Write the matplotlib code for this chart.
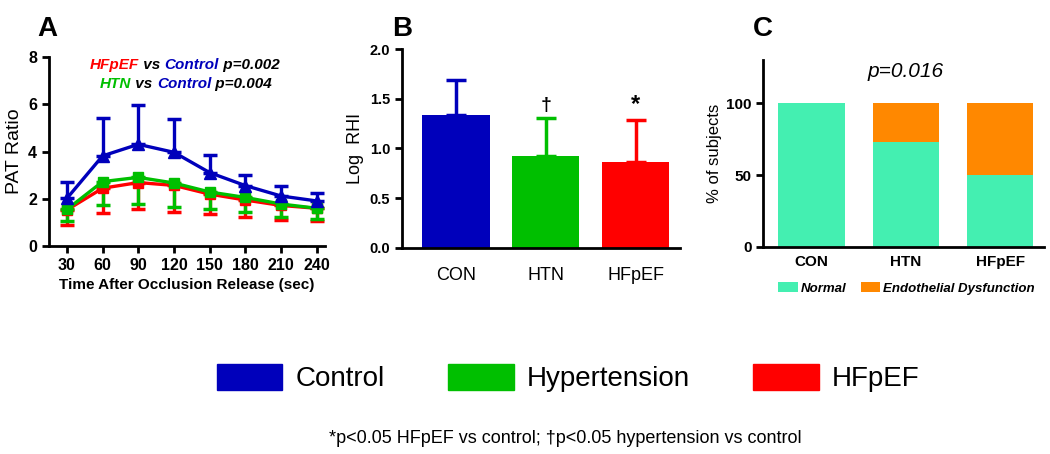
import numpy as np
import matplotlib.pyplot as plt
from matplotlib.patches import Patch

plt.rcParams['font.family'] = ['Liberation Sans', 'DejaVu Sans']

# panel A: PAT ratio over time
times = [30, 60, 90, 120, 150, 180, 210, 240]
con_mean = [2.02, 3.82, 4.31, 3.97, 3.11, 2.56, 2.12, 1.91]
con_sd = [0.71, 1.59, 1.67, 1.43, 0.75, 0.46, 0.42, 0.34]
htn_mean = [1.55, 2.73, 2.91, 2.67, 2.29, 2.06, 1.78, 1.60]
htn_sd = [0.48, 0.99, 1.14, 1.00, 0.74, 0.60, 0.54, 0.46]
hf_mean = [1.53, 2.45, 2.69, 2.57, 2.20, 1.95, 1.72, 1.60]
hf_sd = [0.65, 1.04, 1.14, 1.11, 0.84, 0.72, 0.62, 0.54]

# panel B: log RHI
groups = ['CON', 'HTN', 'HFpEF']
rhi_mean = [1.334, 0.928, 0.86]
rhi_sd = [0.35, 0.38, 0.43]
rhi_marks = ['', '†', '*']

# panel C: % of subjects
normal_pct = [100, 72.7, 50]
dysf_pct = [0, 27.3, 50]

blue = '#0000bb'
green = '#00bf00'
red = '#ff0000'
turq = '#44efb1'
orange = '#ff8800'

fig = plt.figure(figsize=(10.5, 4.54), dpi=100)
axA = fig.add_axes([0.0467, 0.458, 0.263, 0.416])
axB = fig.add_axes([0.383, 0.454, 0.265, 0.438])
axC = fig.add_axes([0.727, 0.456, 0.267, 0.412])

for ax in (axA, axB, axC):
    ax.spines['top'].set_visible(False)
    ax.spines['right'].set_visible(False)
    ax.spines['left'].set_linewidth(2)
    ax.spines['bottom'].set_linewidth(2)
    ax.tick_params(width=2, length=5)

# ---- A ----
z = np.zeros(len(times))
axA.errorbar(times, hf_mean, yerr=[hf_sd, z], color=red, lw=2.4, marker='s', ms=7,
             capsize=5, capthick=2.5, elinewidth=2.4)
axA.errorbar(times, htn_mean, yerr=[htn_sd, z], color=green, lw=2.4, marker='s', ms=7,
             capsize=5, capthick=2.5, elinewidth=2.4)
axA.errorbar(times, con_mean, yerr=[z, con_sd], color=blue, lw=2.4, marker='^', ms=8,
             capsize=5, capthick=2.5, elinewidth=2.4)
axA.set_xlim(15, 247)
axA.set_ylim(0, 8)
axA.set_xticks(times)
axA.set_yticks([0, 2, 4, 6, 8])
for lbl in axA.get_xticklabels() + axA.get_yticklabels():
    lbl.set_fontweight('bold')
    lbl.set_fontsize(11.5)
axA.set_xlabel('Time After Occlusion Release (sec)', fontsize=11, fontweight='bold')
axA.set_ylabel('PAT Ratio', fontsize=14, labelpad=4)
kw = dict(fontsize=11, fontweight='bold', fontstyle='italic')
# two coloured annotation lines
t1 = axA.text(0.148, 0.935, 'HFpEF', color=red, transform=axA.transAxes, **kw)
t2 = axA.annotate(' vs ', xycoords=t1, xy=(1, 0), va='bottom', **kw)
t3 = axA.annotate('Control', xycoords=t2, xy=(1, 0), va='bottom', color=blue, **kw)
axA.annotate(' p=0.002', xycoords=t3, xy=(1, 0), va='bottom', **kw)
s1 = axA.text(0.185, 0.835, 'HTN', color=green, transform=axA.transAxes, **kw)
s2 = axA.annotate(' vs ', xycoords=s1, xy=(1, 0), va='bottom', **kw)
s3 = axA.annotate('Control', xycoords=s2, xy=(1, 0), va='bottom', color=blue, **kw)
axA.annotate(' p=0.004', xycoords=s3, xy=(1, 0), va='bottom', **kw)

# ---- B ----
xb = np.arange(len(groups))
colors = [blue, green, red]
axB.bar(xb, rhi_mean, width=0.75, color=colors)
for i in range(len(groups)):
    axB.errorbar(xb[i], rhi_mean[i], yerr=[[0], [rhi_sd[i]]], color=colors[i],
                 capsize=7.5, capthick=2.5, elinewidth=2.5)
    if rhi_marks[i]:
        axB.text(xb[i], rhi_mean[i] + rhi_sd[i] + 0.04, rhi_marks[i], ha='center', va='bottom',
                 fontsize=17 if rhi_marks[i] == '*' else 14, fontweight='bold')
axB.set_xlim(-0.6, 2.5)
axB.set_ylim(0, 2.0)
axB.set_yticks([0, 0.5, 1.0, 1.5, 2.0])
axB.set_yticklabels(['0.0', '0.5', '1.0', '1.5', '2.0'], fontsize=10.5, fontweight='bold')
axB.set_xticks(xb)
axB.set_xticklabels(groups, fontsize=13)
axB.tick_params(axis='x', length=0, pad=14)
axB.set_ylabel('Log  RHI', fontsize=13)

# ---- C ----
xc = np.arange(len(groups))
axC.bar(xc, normal_pct, width=0.7, color=turq, label='Normal')
axC.bar(xc, dysf_pct, width=0.7, bottom=normal_pct, color=orange, label='Endothelial Dysfunction')
axC.set_xlim(-0.51, 2.46)
axC.set_ylim(0, 130)
axC.set_yticks([0, 50, 100])
axC.set_xticks(xc)
axC.set_xticklabels(groups, fontsize=11, fontweight='bold')
for lbl in axC.get_yticklabels():
    lbl.set_fontweight('bold')
    lbl.set_fontsize(11)
axC.tick_params(axis='x', length=0, pad=6)
axC.set_ylabel('% of subjects', fontsize=12, labelpad=3)
axC.text(1, 122, 'p=0.016', ha='center', va='center', fontsize=15, fontstyle='italic')
axC.legend(loc='center', bbox_to_anchor=(0.51, -0.22), ncol=2, frameon=False,
           prop={'size': 9.5, 'weight': 'bold', 'style': 'italic'},
           handlelength=1.5, handleheight=0.85, handletextpad=0.2, columnspacing=1.1)

# panel letters
fig.text(0.036, 0.965, 'A', fontsize=20, fontweight='bold', va='top')
fig.text(0.373, 0.965, 'B', fontsize=20, fontweight='bold', va='top')
fig.text(0.717, 0.965, 'C', fontsize=20, fontweight='bold', va='top')

# group legend
handles = [Patch(color=c) for c in colors]
fig.legend(handles, ['Control', 'Hypertension', 'HFpEF'], loc='center',
           bbox_to_anchor=(0.541, 0.167), ncol=3, frameon=False, fontsize=20,
           handlelength=2.37, handleheight=1.08, handletextpad=0.47, columnspacing=2.27)

fig.text(0.538, 0.035, '*p<0.05 HFpEF vs control; †p<0.05 hypertension vs control',
         ha='center', va='center', fontsize=13)

fig.savefig('out.png', dpi=100)
